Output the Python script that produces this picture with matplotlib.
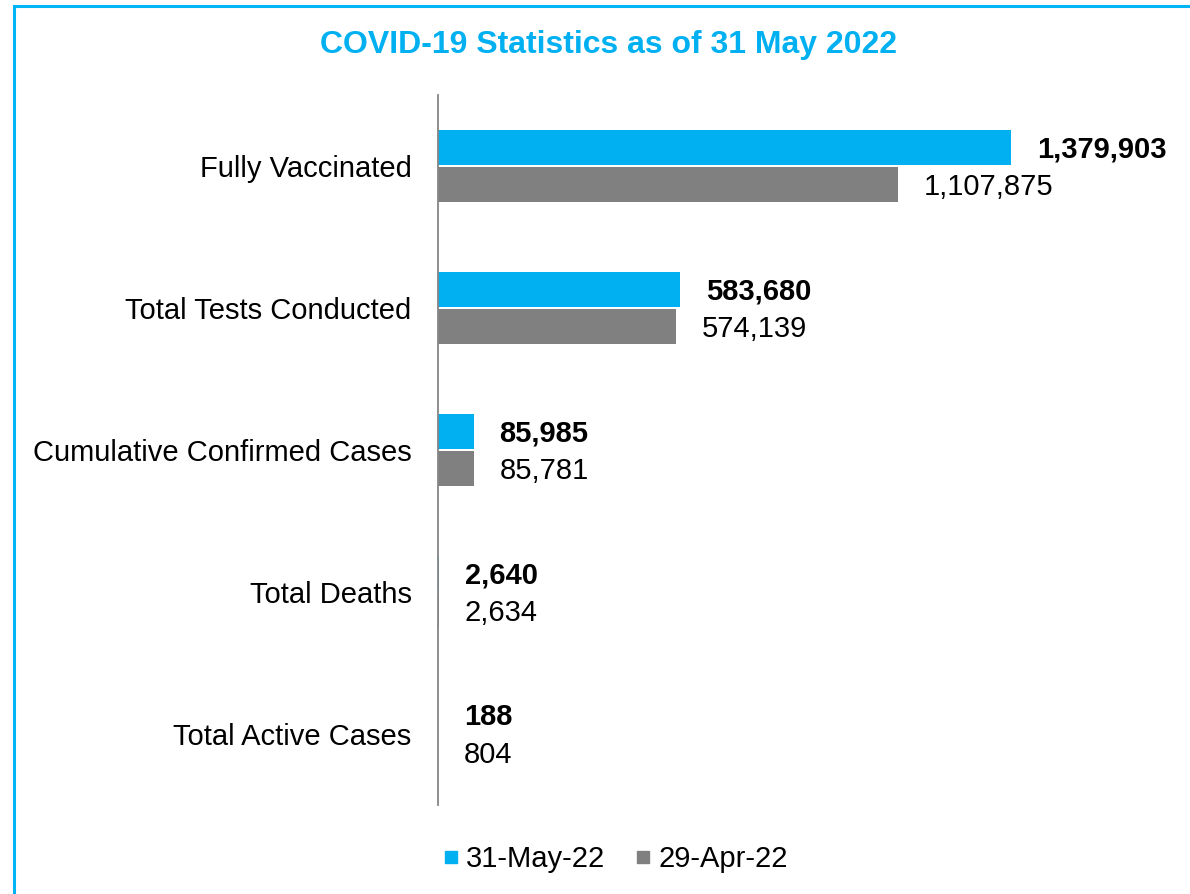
import matplotlib
matplotlib.use("Agg")
import matplotlib.pyplot as plt
from matplotlib.lines import Line2D
from matplotlib.patches import Rectangle
import numpy as np

categories = ["Fully Vaccinated", "Total Tests Conducted", "Cumulative Confirmed Cases",
              "Total Deaths", "Total Active Cases"]
may_values = [1379903, 583680, 85985, 2640, 188]
apr_values = [1107875, 574139, 85781, 2634, 804]
series_names = ["31-May-22", "29-Apr-22"]
title = "COVID-19 Statistics as of 31 May 2022"

BLUE = "#00B0F0"
GRAY = "#808080"

plt.rcParams['font.family'] = ['Liberation Sans', 'DejaVu Sans']

fig = plt.figure(figsize=(11.9, 8.94), dpi=100)
W, H = 1190, 894
ax_left, ax_right, ax_top, ax_bottom = 438, 1170, 95, 805
ax = fig.add_axes([ax_left / W, 1 - ax_bottom / H, (ax_right - ax_left) / W, (ax_bottom - ax_top) / H])

FS = 21
y = np.arange(len(categories))
h = 0.243
off = 0.131
ax.barh(y - off, may_values, height=h, color=BLUE, label=series_names[0])
ax.barh(y + off, apr_values, height=h, color=GRAY, label=series_names[1])

for yi, v in zip(y, may_values):
    ax.annotate(f"{v:,}", (v, yi - off), xytext=(18.5, -1.5), textcoords="offset points",
                va="center", ha="left", fontsize=FS, fontweight="bold", color="black")
for yi, v in zip(y, apr_values):
    ax.annotate(f"{v:,}", (v, yi + off), xytext=(18.5, -1.5), textcoords="offset points",
                va="center", ha="left", fontsize=FS, color="black")

ax.set_ylim(len(categories) - 0.5, -0.5)
ax.set_xlim(0, (ax_right - ax_left) / (573 / 1379903))
ax.set_yticks(y)
ax.set_yticklabels(categories, fontsize=FS)
ax.tick_params(axis='y', length=0, pad=19)
ax.set_xticks([])
for s in ["top", "right", "bottom"]:
    ax.spines[s].set_visible(False)
ax.spines["left"].set_color("#868686")
ax.spines["left"].set_linewidth(1.3)

fig.text(609 / W, 1 - 45 / H, title, ha="center", va="center", fontsize=23,
         fontweight="bold", color=BLUE)

handles = [Line2D([], [], marker="s", linestyle="none", markersize=8, color=BLUE),
           Line2D([], [], marker="s", linestyle="none", markersize=8, color=GRAY)]
fig.legend(handles, series_names, loc="center", bbox_to_anchor=(616 / W, 1 - 859 / H),
           ncol=2, frameon=False, fontsize=FS, handlelength=0.45, handletextpad=0.3,
           columnspacing=1.05)

fig.patches.append(Rectangle((14 / W, -0.1), 1.2, 1 - 6 / H + 0.1, transform=fig.transFigure,
                             fill=False, edgecolor="#00B4F5", linewidth=2.2))

fig.savefig("out.png", dpi=100)
